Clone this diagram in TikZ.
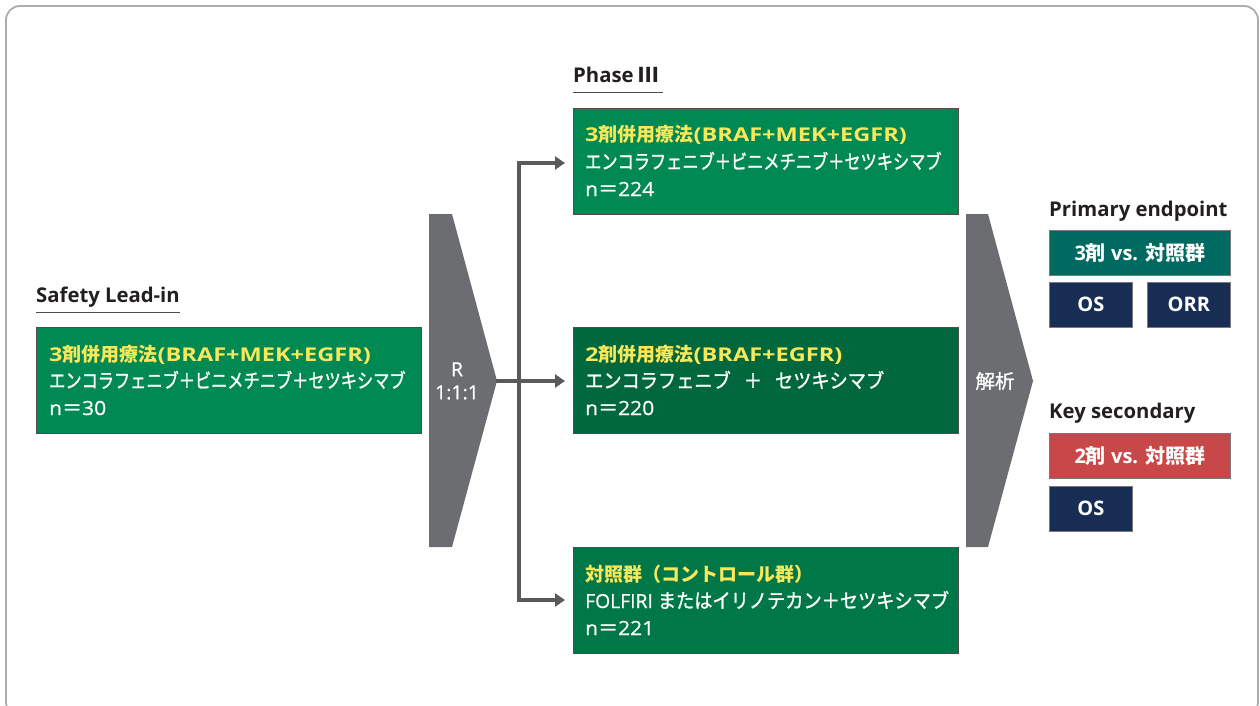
\documentclass[tikz,border=0pt]{standalone}
\usepackage{fontspec}
\setmainfont{Open Sans}
\newfontfamily\wide{Open Sans}[FakeStretch=1.24]
\newfontfamily\wideb{Open Sans}[FakeStretch=1.08,FakeBold=0.6]
\newfontfamily\med{Open Sans}[FakeBold=0.6]
\newfontfamily\jp{Noto Sans CJK JP}
\newfontfamily\jpm{Noto Sans CJK JP}[FakeBold=1]
\newfontfamily\jpa{Noto Sans CJK JP}[FakeStretch=0.81,FakeBold=1.2]
\newfontfamily\jpb{Noto Sans CJK JP}[FakeStretch=0.91,FakeBold=1.2]
\usetikzlibrary{arrows.meta}
\definecolor{gA}{RGB}{0,137,82}
\definecolor{gB}{RGB}{0,104,60}
\definecolor{gC}{RGB}{0,119,71}
\definecolor{teal}{RGB}{0,105,96}
\definecolor{navy}{RGB}{24,45,84}
\definecolor{redb}{RGB}{200,72,74}
\definecolor{yel}{RGB}{250,232,90}
\definecolor{shape}{RGB}{108,109,113}
\definecolor{arr}{RGB}{90,90,92}
\definecolor{frame}{RGB}{172,172,176}
\definecolor{txt}{RGB}{35,31,32}
\newcommand\lb{\wide\bfseries\fontsize{19}{20}\selectfont}
\newcommand\jb{\jp\bfseries\fontsize{19}{20}\selectfont}
\newcommand\jr{\jpa\fontsize{20}{20}\selectfont}
\newcommand\jrw{\jpb\fontsize{20}{20}\selectfont}
\newcommand\nl{\wideb\fontsize{19.5}{20}\selectfont}
\newcommand\jn{\jpm\fontsize{20}{20}\selectfont}
\newcommand\eqsign{{\jn ＝}}
\tikzset{
 armbox/.style={draw=txt!80,line width=0.8pt,minimum width=385pt,minimum height=106pt,anchor=north west,inner sep=0pt},
 ln/.style={anchor=base west,inner sep=0pt,text=white},
 lnY/.style={anchor=base west,inner sep=0pt,text=yel},
 label/.style={anchor=base west,font=\fontsize{20.3}{22}\selectfont\bfseries,text=txt,inner sep=0pt},
 epbox/.style={draw=txt!60,line width=0.6pt,anchor=north west,inner sep=0pt,text=white,font=\fontsize{20}{22}\selectfont\bfseries},
 conn/.style={draw=arr,line width=3.5pt,-{Triangle[length=10pt,width=13pt]}},
}
\begin{document}
\begin{tikzpicture}[x=1pt,y=-1pt]
\useasboundingbox (0,0) rectangle (1260,706);
\draw[frame,line width=1.8pt,rounded corners=14pt] (6,6) rectangle (1258,716);
% labels
\node[label] (lsafe) at (36,302) {Safety Lead-in};
\draw[txt!80,line width=1pt] (36,312) -- (180,312);
\node[label] (lphase) at (573,83) {Phase {\jp\bfseries Ⅲ}};
\draw[txt!80,line width=1pt] (573,93) -- (663,93);
% left box
\node[armbox,fill=gA] (lead) at (36,327) {};
\node[lnY] (lead1) at (49,361) {{\lb 3}{\jb 剤併用療法}{\lb (BRAF+MEK+EGFR)}};
\node[ln] (lead2) at (49,388) {\jr エンコラフェニブ＋ビニメチニブ＋セツキシマブ};
\node[ln] (lead3) at (49,415) {{\nl n}\eqsign{\nl 30}};
% randomisation shape
\path[fill=shape] (429,214) -- (452,214) -- (497,381) -- (452,547) -- (429,547) -- cycle;
\coordinate (rtip) at (496,381);
\node[text=white,font=\med\fontsize{19.5}{23}\selectfont,align=center,inner sep=0pt] (rlab) at (457,381) {R\\1:1:1};
% arms
\node[armbox,fill=gA] (arm1) at (573,108) {};
\node[lnY] (arm1a) at (585,142) {{\lb 3}{\jb 剤併用療法}{\lb (BRAF+MEK+EGFR)}};
\node[ln] (arm1b) at (585,169) {\jr エンコラフェニブ＋ビニメチニブ＋セツキシマブ};
\node[ln] (arm1c) at (585,196) {{\nl n}\eqsign{\nl 224}};
\node[armbox,fill=gB] (arm2) at (573,327) {};
\node[lnY] (arm2a) at (585,361) {{\lb 2}{\jb 剤併用療法}{\lb (BRAF+EGFR)}};
\node[ln] (arm2b) at (585,388) {\jrw エンコラフェニブ\hspace{13pt}＋\hspace{13pt}セツキシマブ};
\node[ln] (arm2c) at (585,415) {{\nl n}\eqsign{\nl 220}};
\node[armbox,fill=gC] (arm3) at (573,547) {};
\node[lnY] (arm3a) at (585,581) {{\jb 対照群（コントロール群）}};
\node[ln] (arm3b) at (585,608) {{\med\fontsize{19.3}{20}\selectfont FOLFIRI }\jrw またはイリノテカン＋セツキシマブ};
\node[ln] (arm3c) at (585,635) {{\nl n}\eqsign{\nl 221}};
% connectors
\coordinate (vtop) at (519,163);
\coordinate (vbot) at (519,600);
\draw[arr,line width=3.5pt] (vtop) -- (vbot);
\draw[conn] (rtip) -- ([xshift=-8pt]arm2.west |- rtip);
\draw[conn] ([xshift=-1.75pt]vtop) -- ([xshift=-8pt]arm1.west |- vtop);
\draw[conn] ([xshift=-1.75pt]vbot) -- ([xshift=-8pt]arm3.west |- vbot);
% analysis shape
\path[fill=shape] (966,214) -- (988,214) -- (1033,381) -- (988,547) -- (966,547) -- cycle;
\node[text=white,font=\jpm\fontsize{19.5}{20}\selectfont,inner sep=0pt] (alab) at (995,381) {解析};
% endpoints
\node[label] (lprim) at (1049,216) {Primary endpoint};
\node[epbox,fill=teal,minimum width=181pt,minimum height=45pt] (ep1) at (1049,230) {3{\jp\bfseries 剤} vs. {\jp\bfseries 対照群}};
\node[epbox,fill=navy,minimum width=83pt,minimum height=45pt] (os1) at (1049,282) {OS};
\node[epbox,fill=navy,minimum width=83pt,minimum height=45pt] (orr) at (1147,282) {ORR};
\node[label] (lkey) at (1049,418) {Key secondary};
\node[epbox,fill=redb,minimum width=181pt,minimum height=45pt] (ep2) at (1049,433) {2{\jp\bfseries 剤} vs. {\jp\bfseries 対照群}};
\node[epbox,fill=navy,minimum width=83pt,minimum height=45pt] (os2) at (1049,486) {OS};
\end{tikzpicture}
\end{document}
